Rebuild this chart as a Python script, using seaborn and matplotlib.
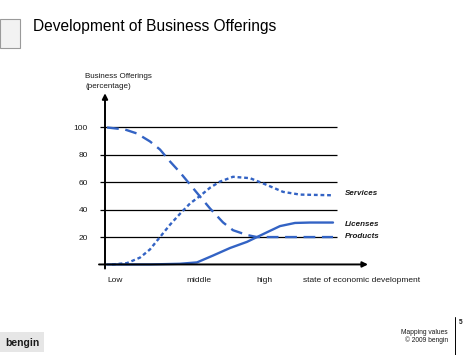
import numpy as np
import pandas as pd
import matplotlib
matplotlib.use("Agg")
import matplotlib.pyplot as plt
import seaborn as sns
from matplotlib.patches import Rectangle

# ---------------------------
# Data (x = state of economic development, y = share in %)
products_x = [0.2, 2.0, 3.2, 4.5, 5.5, 6.5, 7.5, 8.5, 9.5, 10.5, 11.8, 12.8, 14.2, 15.2, 18.5, 22.8]
products_y = [100, 98.5, 95.6, 89.8, 83.9, 75.2, 67.2, 58.4, 49.6, 40.9, 30.7, 25, 21.5, 20, 20, 20]

services_x = [0.7, 2.2, 3.5, 4.5, 5.5, 6.5, 7.5, 8.5, 9.5, 10.5, 11.5, 12.8, 14.5, 16.2, 17.8, 19.5, 22.8]
services_y = [0, 1, 5, 11, 20, 29, 37, 44.5, 50, 56, 60.5, 64, 63, 58, 53, 51, 50.5]

licenses_x = [0.2, 4.5, 7.5, 9.2, 10.8, 12.5, 14.2, 15.2, 16.2, 17.5, 19.0, 20.5, 22.8]
licenses_y = [0, 0, 0.5, 1.5, 6.5, 12, 16.5, 20, 23.5, 28, 30.3, 30.6, 30.6]

grid_values = [20, 40, 60, 80, 100]
x_tick_pos = [1.0, 9.4, 15.9, 25.65]
x_tick_labels = ['Low', 'middle', 'high', 'state of economic development']

sns.set_style('white')
plt.rcParams['font.family'] = ['Liberation Sans', 'DejaVu Sans']

blue = '#3363c4'
txt = '#1a1a1a'
W, H = 474, 355
fig = plt.figure(figsize=(W / 100, H / 100), dpi=100)

# axes placed in pixel coordinates of the reference
left_px, right_px, top_px, bottom_px = 90, 370, 92, 275
ax = fig.add_axes([left_px / W, (H - bottom_px) / H,
                   (right_px - left_px) / W, (bottom_px - top_px) / H])
ax.set_xlim(-1.5, 26.5)
ax.set_ylim(-7.7, 125.9)
for s in ax.spines.values():
    s.set_visible(False)

# gridlines
ax.hlines(grid_values, -0.5, 23.2, color='black', lw=0.9, zorder=1)

# axes arrows
ax.annotate('', xy=(0, 125), xytext=(0, -3),
            arrowprops=dict(arrowstyle='-|>', color='black', lw=1.4,
                            mutation_scale=8, shrinkA=0, shrinkB=0), zorder=5)
ax.annotate('', xy=(26.3, 0), xytext=(-0.6, 0),
            arrowprops=dict(arrowstyle='-|>', color='black', lw=1.4,
                            mutation_scale=8, shrinkA=0, shrinkB=0), zorder=5)

# series
line_kw = dict(ax=ax, color=blue, lw=1.7, zorder=3,
               solid_joinstyle='round', dash_joinstyle='round')
sns.lineplot(x=products_x, y=products_y, linestyle=(0, (5, 2.8)), **line_kw)
sns.lineplot(x=services_x, y=services_y, linestyle=(0, (1.6, 1.2)), **line_kw)
sns.lineplot(x=licenses_x, y=licenses_y, **line_kw)

# series labels
lab_kw = dict(fontsize=5.8, fontweight='bold', fontstyle='italic', va='center',
              ha='left', color=txt)
ax.text(24.0, 52, 'Services', **lab_kw)
ax.text(24.0, 29.5, 'Licenses', **lab_kw)
ax.text(24.0, 20.5, 'Products', **lab_kw)

# ticks
ax.set_yticks(grid_values)
ax.set_yticklabels([str(v) for v in grid_values], fontsize=6, color=txt)
ax.set_xticks(x_tick_pos)
ax.set_xticklabels(x_tick_labels, fontsize=6, color=txt)
ax.tick_params(axis='both', length=0, pad=1.5)
ax.set_xlabel('')
ax.set_ylabel('')

# axis title
fig.text(85 / W, 1 - 77 / H, 'Business Offerings', fontsize=5.8, va='center', ha='left', color=txt)
fig.text(85 / W, 1 - 87 / H, '(percentage)', fontsize=5.8, va='center', ha='left', color=txt)

# slide decoration
fig.text(33 / W, 1 - 27 / H, 'Development of Business Offerings', fontsize=11.2,
         va='center', ha='left', color='black')
fig.patches.append(Rectangle((0, 1 - 48 / H), 20 / W, 29 / H, transform=fig.transFigure,
                             facecolor='#f2f2f2', edgecolor='#9a9a9a', lw=0.8))
fig.patches.append(Rectangle((0, 1 - 352 / H), 44 / W, 20 / H, transform=fig.transFigure,
                             facecolor='#e6e6e6', edgecolor='none'))
fig.text(5 / W, 1 - 343 / H, 'bengin', fontsize=7.5, fontweight='bold', va='center',
         ha='left', color=txt)
fig.text(448 / W, 1 - 333 / H, 'Mapping values', fontsize=4.8, va='center', ha='right', color=txt)
fig.text(448 / W, 1 - 340 / H, '\u00a9 2009 bengin', fontsize=4.8, va='center', ha='right', color=txt)
fig.add_artist(plt.Line2D([455 / W, 455 / W], [0, 1 - 317 / H], transform=fig.transFigure,
                          color='black', lw=0.7))
fig.text(459 / W, 1 - 323 / H, '5', fontsize=4.8, fontweight='bold', va='center', ha='left', color=txt)

fig.savefig('out.png', dpi=100)
